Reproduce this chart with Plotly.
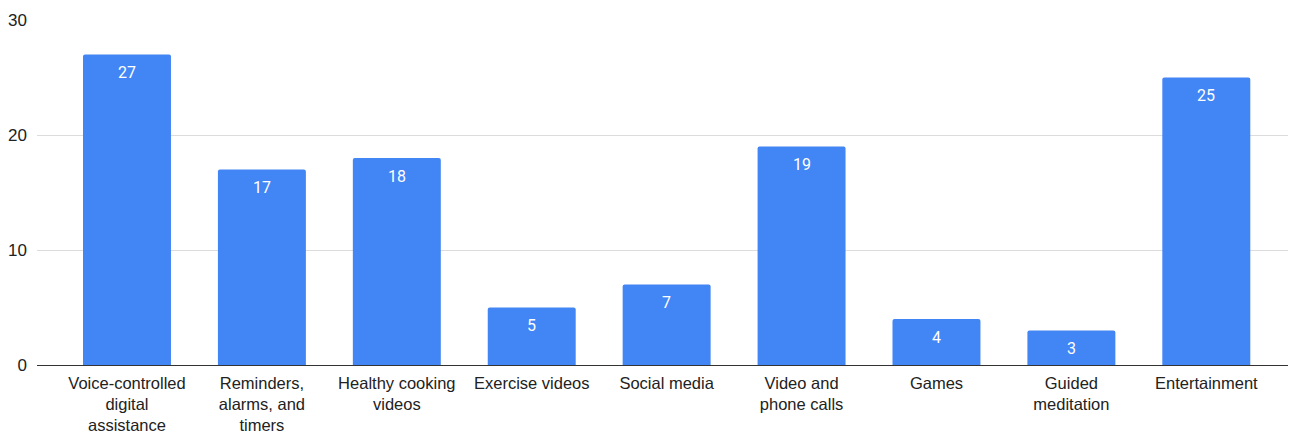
import plotly.graph_objects as go

categories = [
    "Voice-controlled<br>digital<br>assistance",
    "Reminders,<br>alarms, and<br>timers",
    "Healthy cooking<br>videos",
    "Exercise videos",
    "Social media",
    "Video and<br>phone calls",
    "Games",
    "Guided<br>meditation",
    "Entertainment",
]
values = [27, 17, 18, 5, 7, 19, 4, 3, 25]
y_ticks = [0, 10, 20, 30]

xs = list(range(len(categories)))

fig = go.Figure(
    go.Bar(
        x=xs,
        y=values,
        marker=dict(color="#4285F4", cornerradius=2, line=dict(width=0)),
        width=0.652,
        hoverinfo="skip",
    )
)

for xi, v in zip(xs, values):
    fig.add_annotation(
        x=xi,
        y=v,
        text=str(v),
        showarrow=False,
        yanchor="middle",
        yshift=-18,
        font=dict(color="white", size=16, family="Roboto, Liberation Sans, Arial"),
    )

fig.update_layout(
    width=1296,
    height=432,
    margin=dict(l=29, r=10, t=12, b=75, autoexpand=False),
    paper_bgcolor="white",
    plot_bgcolor="white",
    showlegend=False,
    font=dict(family="Liberation Sans, Arial", size=16, color="#222222"),
    xaxis=dict(
        tickmode="array",
        tickvals=xs,
        ticktext=categories,
        range=[-0.667, 8.65],
        showgrid=False,
        zeroline=False,
        showline=False,
        ticks="",
        automargin=False,
        ticklabelstandoff=6,
        tickfont=dict(size=16.5, color="#222222"),
    ),
    yaxis=dict(
        range=[0, 30],
        tickvals=y_ticks,
        showgrid=True,
        gridcolor="#dcdcdc",
        gridwidth=1,
        zeroline=True,
        zerolinecolor="#333333",
        zerolinewidth=1,
        ticks="",
        automargin=False,
        ticklabelstandoff=9,
        tickfont=dict(size=17, color="#222222"),
    ),
)

fig.write_html("out.html")
